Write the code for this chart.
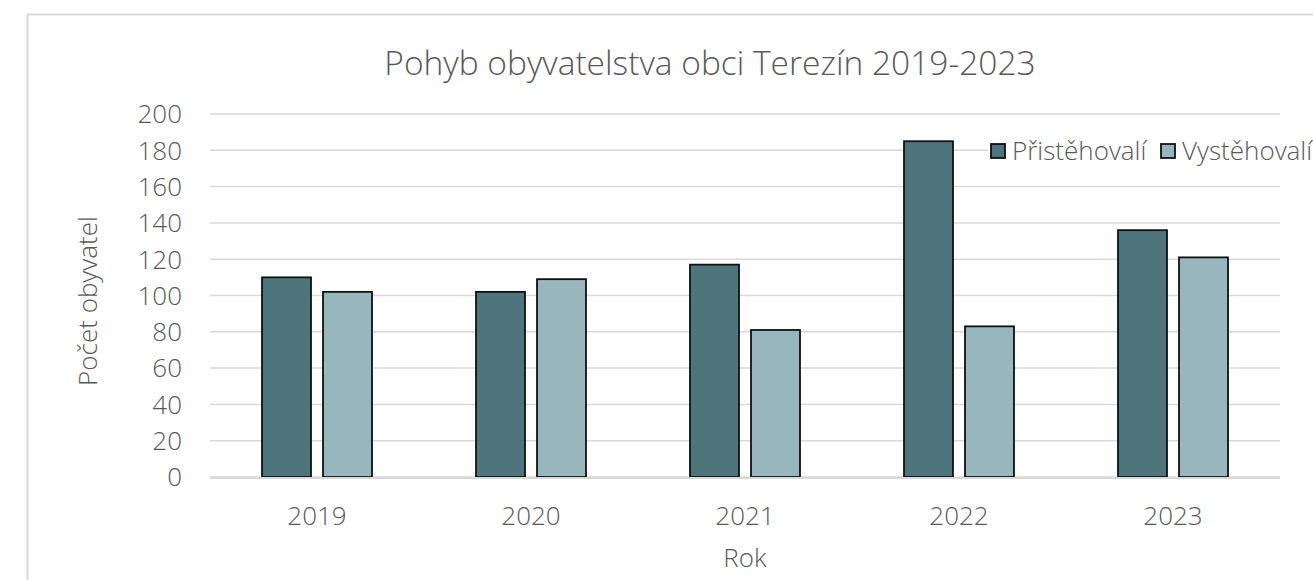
<!DOCTYPE html>
<html>
<head>
<meta charset="utf-8">
<script src="https://cdn.jsdelivr.net/npm/d3@7"></script>
<style>
  body { margin: 0; background: #fff; }
  text { font-family: 'Open Sans', sans-serif; font-weight: 300; fill: #595959; }
</style>
</head>
<body>
<div id="chart"></div>
<script>
// data
let years = ['2019', '2020', '2021', '2022', '2023']
let seriesNames = ['Přistěhovalí', 'Vystěhovalí']
let prist = [110, 102, 117, 185, 136]
let vyst = [102, 109, 81, 83, 121]
let yTicks = [0, 20, 40, 60, 80, 100, 120, 140, 160, 180, 200]
let colors = ['#4e757c', '#97b6bd']

let width = 1313
let height = 580

let svg = d3
  .select('#chart')
  .append('svg')
  .attr('width', width)
  .attr('height', height)

// chart area border (right / bottom run past the window)
svg
  .append('rect')
  .attr('x', 27.5)
  .attr('y', 14.5)
  .attr('width', 1400)
  .attr('height', 700)
  .attr('fill', 'none')
  .attr('stroke', '#d9d9d9')
  .attr('stroke-width', 2)

let plot = { left: 210, right: 1280, top: 114, bottom: 477 }

let xScale = d3
  .scaleBand()
  .domain(years)
  .range([plot.left, plot.right])

let yScale = d3
  .scaleLinear()
  .domain([0, 200])
  .range([plot.bottom, plot.top])

let rows = years.map(function (y, i) {
  return { year: y, values: [prist[i], vyst[i]] }
})

// gridlines
svg
  .append('g')
  .selectAll('line')
  .data(yTicks)
  .enter()
  .append('line')
  .attr('x1', plot.left)
  .attr('x2', plot.right)
  .attr('y1', d => yScale(d))
  .attr('y2', d => yScale(d))
  .attr('stroke', '#d9d9d9')
  .attr('stroke-width', 1.5)

// y tick labels
svg
  .append('g')
  .selectAll('text')
  .data(yTicks)
  .enter()
  .append('text')
  .attr('x', 182)
  .attr('y', d => yScale(d))
  .attr('dy', '0.36em')
  .attr('text-anchor', 'end')
  .attr('font-size', 26)
  .text(d => d)

// bars, 49px wide with a 12px gap, centred in each band
let barW = 49
let gap = 12
let groups = svg
  .append('g')
  .selectAll('g')
  .data(rows)
  .enter()
  .append('g')
  .attr('transform', d => 'translate(' + (xScale(d.year) + xScale.bandwidth() / 2) + ',0)')

groups
  .selectAll('rect')
  .data(d => d.values)
  .enter()
  .append('rect')
  .attr('x', (d, i) => (i === 0 ? -gap / 2 - barW : gap / 2))
  .attr('y', d => yScale(d))
  .attr('width', barW)
  .attr('height', d => plot.bottom - yScale(d))
  .attr('fill', (d, i) => colors[i])
  .attr('stroke', '#111')
  .attr('stroke-width', 1.8)

// baseline drawn over the bars
svg
  .append('line')
  .attr('x1', plot.left)
  .attr('x2', plot.right)
  .attr('y1', yScale(0) + 1)
  .attr('y2', yScale(0) + 1)
  .attr('stroke', '#d9d9d9')
  .attr('stroke-width', 2)

// x tick labels
svg
  .append('g')
  .selectAll('text')
  .data(years)
  .enter()
  .append('text')
  .attr('x', d => xScale(d) + xScale.bandwidth() / 2)
  .attr('y', 525)
  .attr('text-anchor', 'middle')
  .attr('font-size', 26)
  .text(d => d)

// title
svg
  .append('text')
  .attr('x', 710)
  .attr('y', 75)
  .attr('text-anchor', 'middle')
  .attr('font-size', 33.5)
  .text('Pohyb obyvatelstva obci Terezín 2019-2023')

// axis titles
svg
  .append('text')
  .attr('transform', 'translate(97,301) rotate(-90)')
  .attr('text-anchor', 'middle')
  .attr('font-size', 26)
  .text('Počet obyvatel')

svg
  .append('text')
  .attr('x', 745)
  .attr('y', 567)
  .attr('text-anchor', 'middle')
  .attr('font-size', 26)
  .text('Rok')

// legend
let legendX = [991, 1161]
let legend = svg
  .append('g')
  .selectAll('g')
  .data(seriesNames)
  .enter()
  .append('g')
  .attr('transform', (d, i) => 'translate(' + legendX[i] + ',144)')

legend
  .append('rect')
  .attr('x', -3)
  .attr('y', -10)
  .attr('width', 175)
  .attr('height', 34)
  .attr('fill', '#fff')

legend
  .append('rect')
  .attr('width', 14)
  .attr('height', 14)
  .attr('fill', (d, i) => colors[i])
  .attr('stroke', '#111')
  .attr('stroke-width', 1.8)

legend
  .append('text')
  .attr('x', 21)
  .attr('y', 7)
  .attr('dy', '0.36em')
  .attr('font-size', 26)
  .text(d => d)
</script>
</body>
</html>
